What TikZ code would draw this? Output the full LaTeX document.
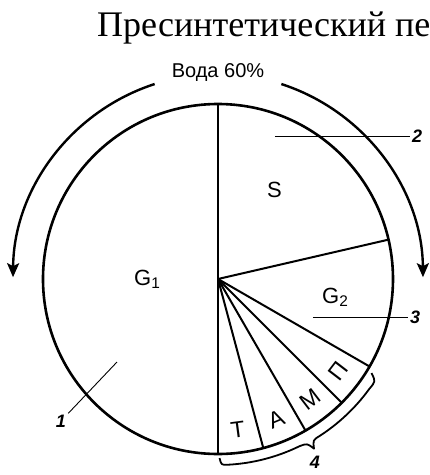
\documentclass[tikz,border=0pt]{standalone}
\usepackage{fontspec}
\setmainfont{Liberation Serif}
\setsansfont{Liberation Sans}
\usetikzlibrary{arrows.meta}

\begin{document}
\begin{tikzpicture}[
  x=1pt, y=1pt,
  font=\sffamily,
  rim/.style={line width=2.6pt},
  spoke/.style={line width=2pt},
  cycle/.style={line width=2.4pt, -{Stealth[length=14pt, width=12pt, inset=3pt]}},
  lead/.style={line width=0.9pt},
  phase/.style={font=\sffamily\fontsize{22}{24}\selectfont, inner sep=0},
  part/.style={font=\sffamily\fontsize{23}{25}\selectfont, inner sep=0},
  num/.style={font=\sffamily\bfseries\itshape\fontsize{18}{20}\selectfont, inner sep=2pt},
  brace/.style={line width=1.8pt, line join=round}
]
\useasboundingbox (-218,-196) rectangle (212,279);

\node[anchor=base west, inner sep=0, font=\rmfamily\fontsize{36}{40}\selectfont] (title) at (-121,243) {Пресинтетический пе};
\node[anchor=base, inner sep=0, font=\sffamily\fontsize{20}{22}\selectfont] (water) at (0,202) {Вода 60\%};

% cell cycle circle
\coordinate (c) at (0,0);
\draw[rim] (c) circle[radius=175];
\draw[spoke] (90:175) -- (-90:175);
\foreach \a in {13,-30,-45,-60,-75}
  \draw[spoke] (c) -- (\a:175);

% direction of the cycle
\draw[cycle] (108:205) arc[start angle=108, end angle=179.5, radius=205];
\draw[cycle] (72:205) arc[start angle=72, end angle=0.5, radius=205];

\node[phase, anchor=base west] (g1) at (-84,-6) {G\textsubscript{1}};
\node[phase, anchor=base west] (s) at (49,82) {S};
\node[phase, anchor=base west] (g2) at (104,-24) {G\textsubscript{2}};

% mitosis phases
\foreach \m/\t in {-82.5/Т,-67.5/А,-52.5/М,-37.5/П}
  \node[part, rotate=\m+90] at (\m:152) {\t};

% leaders
\coordinate (p1) at (-101,-83);
\coordinate (p2) at (57,143);
\coordinate (p3) at (95,-38);
\node[num] (n1) at (-157,-142) {1};
\node[num, anchor=west] (n2) at (192,143) {2};
\node[num, anchor=west] (n3) at (190,-38) {3};
\node[num] (n4) at (97,-183) {4};
\draw[lead] (p1) -- (n1);
\draw[lead] (p2) -- (n2.west);
\draw[lead] (p3) -- (n3.west);

\draw[brace] (-31.5:180) .. controls (-33:188) .. (-36:187)
  arc[start angle=-36, end angle=-57, radius=187]
  .. controls (-59.5:187) .. (-60.5:195) .. controls (-61.5:187) .. (-64:186)
  arc[start angle=-64, end angle=-87, radius=186]
  .. controls (-89:186) .. (-89.5:179);

\end{tikzpicture}
\end{document}
